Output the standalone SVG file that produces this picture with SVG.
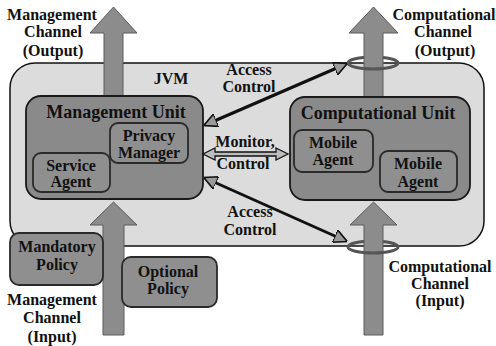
<svg xmlns="http://www.w3.org/2000/svg" width="496" height="346" viewBox="0 0 496 346">
<defs>
<style>
text{font-family:"Liberation Serif","Times New Roman",serif;font-weight:bold;fill:#111;text-anchor:middle}
.lbl{font-size:16px}
.unit{font-size:18px}
.inner{font-size:16px}
.jvm{fill:#dcdcdc;stroke:#111;stroke-width:1.5}
.ubox{fill:#8a8a8a;stroke:#1a1a1a;stroke-width:1.8}
.ibox{fill:#8f8f8f;stroke:#2a2a2a;stroke-width:1.8}
.chan{fill:#8c8c8c;stroke:#5a5a5a;stroke-width:1}
.ring{fill:none;stroke:#555;stroke-width:3}
.acc{stroke:#111;stroke-width:3;fill:none}
</style>
<marker id="ah" viewBox="0 0 10 10" refX="9" refY="5" markerWidth="4.5" markerHeight="4.5" orient="auto-start-reverse" markerUnits="strokeWidth">
<path d="M0,0 L10,5 L0,10 Z" fill="#9a9a9a" stroke="#111" stroke-width="1.2"/>
</marker>
</defs>
<rect width="496" height="346" fill="#fff"/>
<g id="jvm">
<rect class="jvm" x="10" y="63" width="474" height="183" rx="25"/>
<text class="lbl" x="171" y="84">JVM</text>
</g>
<g id="channels">
<g id="mgmt-out">
<path class="chan" d="M104,97 V33 H90 L113.5,7 L137,33 H123 V97 Z"/>
</g>
<g id="comp-out">
<path class="ring" d="M348,63 A25,6 0 0 1 398,63"/>
<path class="chan" d="M364,97 V33 H349 L373.5,7 L398,33 H383 V97 Z"/>
<path class="ring" d="M348,63 A25,6 0 0 0 398,63"/>
</g>
<g id="mgmt-in">
<path class="chan" d="M103,335 V225 H90 L113.5,202 L137,225 H124 V335 Z"/>
</g>
<g id="comp-in">
<path class="ring" d="M348,247 A25,6 0 0 1 398,247"/>
<path class="chan" d="M364,335 V225 H350 L373.5,202 L397,225 H383 V335 Z"/>
<path class="ring" d="M348,247 A25,6 0 0 0 398,247"/>
</g>
</g>
<g id="management-unit">
<rect class="ubox" x="26" y="96" width="177" height="103" rx="15"/>
<text class="unit" x="116" y="118">Management Unit</text>
</g>
<g id="privacy-manager">
<rect class="ibox" x="110" y="123" width="78" height="40" rx="8"/>
<text class="inner" x="149" y="141">Privacy</text>
<text class="inner" x="149" y="158">Manager</text>
</g>
<g id="service-agent">
<rect class="ibox" x="33" y="153" width="77" height="39" rx="8"/>
<text class="inner" x="71" y="171">Service</text>
<text class="inner" x="71" y="187">Agent</text>
</g>
<g id="computational-unit">
<rect class="ubox" x="290" y="97" width="180" height="103" rx="15"/>
<text class="unit" x="378" y="119">Computational Unit</text>
</g>
<g id="mobile-agent-1">
<rect class="ibox" x="294" y="130" width="79" height="42" rx="8"/>
<text class="inner" x="333" y="148">Mobile</text>
<text class="inner" x="333" y="165">Agent</text>
</g>
<g id="mobile-agent-2">
<rect class="ibox" x="380" y="151" width="77" height="41" rx="8"/>
<text class="inner" x="418" y="169">Mobile</text>
<text class="inner" x="418" y="187">Agent</text>
</g>
<g id="mandatory-policy">
<rect class="ibox" x="10" y="233" width="93" height="52" rx="9"/>
<text class="inner" x="57" y="252">Mandatory</text>
<text class="inner" x="57" y="270">Policy</text>
</g>
<g id="optional-policy">
<rect class="ibox" x="122" y="257" width="95" height="50" rx="9"/>
<text class="inner" x="168" y="277">Optional</text>
<text class="inner" x="168" y="294">Policy</text>
</g>
<g id="connectors">
<line class="acc" x1="205" y1="125" x2="346" y2="64" marker-start="url(#ah)" marker-end="url(#ah)"/>
<line class="acc" x1="205" y1="178" x2="346" y2="241" marker-start="url(#ah)" marker-end="url(#ah)"/>
<path d="M203,154 L215,148 V152 H276 V148 L288,154 L276,160 V156 H215 V160 Z" fill="#bdbdbd" stroke="#111" stroke-width="1.3"/>
</g>
<g id="labels">
<text class="lbl" x="52" y="20">Management</text>
<text class="lbl" x="53" y="37">Channel</text>
<text class="lbl" x="53" y="56">(Output)</text>
<text class="lbl" x="444" y="20">Computational</text>
<text class="lbl" x="443" y="37">Channel</text>
<text class="lbl" x="445" y="56">(Output)</text>
<text class="lbl" x="249" y="75">Access</text>
<text class="lbl" x="249" y="92">Control</text>
<text class="lbl" x="245" y="147">Monitor,</text>
<text class="lbl" x="243" y="169">Control</text>
<text class="lbl" x="250" y="217">Access</text>
<text class="lbl" x="250" y="235">Control</text>
<text class="lbl" x="52" y="305">Management</text>
<text class="lbl" x="52" y="323">Channel</text>
<text class="lbl" x="52" y="342">(Input)</text>
<text class="lbl" x="440" y="272">Computational</text>
<text class="lbl" x="440" y="289">Channel</text>
<text class="lbl" x="440" y="306">(Input)</text>
</g>
</svg>
